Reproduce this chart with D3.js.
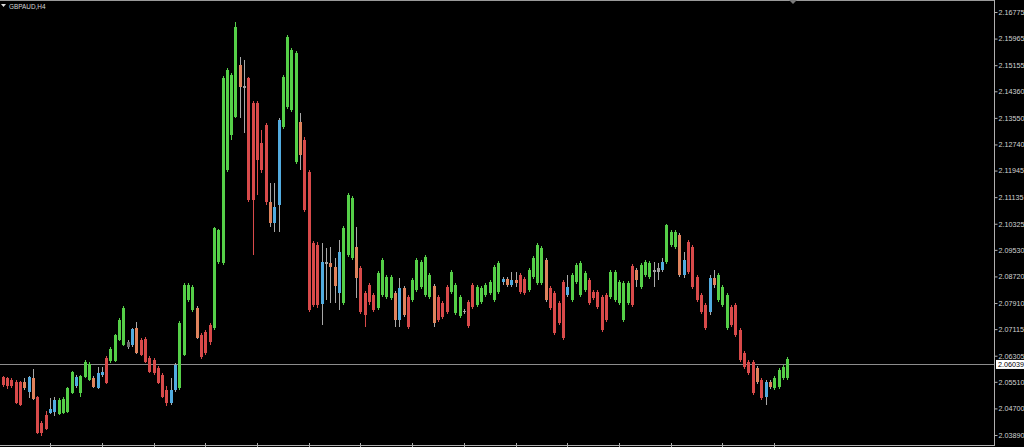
<!DOCTYPE html>
<html><head><meta charset="utf-8">
<script src="https://cdn.jsdelivr.net/npm/d3@7"></script>
<style>html,body{margin:0;padding:0;background:#000;overflow:hidden}svg{display:block}</style>
</head><body>
<script>
const symbolLabel = "GBPAUD,H4";
const currentPrice = 2.06039;
const priceTicks = [2.16775, 2.15965, 2.15155, 2.14360, 2.13550, 2.12740, 2.11945, 2.11135, 2.10325,
  2.09530, 2.08720, 2.07910, 2.07115, 2.06305, 2.05510, 2.04700, 2.03890];
const timeTickBars = [11, 23, 35, 47, 59, 71, 83, 95, 107, 119, 131, 143, 155, 167, 179];

const openP = [
2.0566,2.0563,2.0557,2.0551,2.0551,2.0551,2.0520,2.0563,2.0505,2.0426,
2.0450,2.0456,2.0459,2.0453,2.0456,2.0459,2.0517,2.0539,2.0517,2.0566,
2.0557,2.0563,2.0533,2.0572,2.0624,2.0615,2.0615,2.0678,2.0663,2.0672,
2.0663,2.0715,2.0678,2.0681,2.0624,2.0618,2.0593,2.0572,2.0526,2.0487,
2.0526,2.0533,2.0633,2.0800,2.0770,2.0776,2.0694,2.0703,2.0724,2.0715,
2.0916,2.0913,2.1196,2.1303,2.1358,2.1516,2.1452,2.1476,2.1400,2.1400,
2.1279,2.1334,2.1099,2.1035,2.1090,2.1327,2.1388,2.1379,2.1221,2.1343,
2.1288,2.1190,2.0974,2.0968,2.0788,2.0916,2.0913,2.0901,2.0822,2.0791,
2.0938,2.0928,2.0962,2.0898,2.0822,2.0846,2.0815,2.0776,2.0815,2.0809,
2.0806,2.0822,2.0739,2.0837,2.0809,2.0800,2.0831,2.0840,2.0815,2.0809,
2.0843,2.0809,2.0791,2.0840,2.0825,2.0761,2.0751,2.0767,2.0794,2.0846,
2.0785,2.0794,2.0815,2.0822,2.0800,2.0825,2.0855,2.0864,2.0846,2.0861,
2.0876,2.0864,2.0831,2.0870,2.0852,2.0852,2.0922,2.0837,2.0822,2.0791,
2.0855,2.0815,2.0800,2.0855,2.0815,2.0831,2.0861,2.0825,2.0825,2.0809,
2.0815,2.0809,2.0800,2.0791,2.0739,2.0791,2.0904,2.0892,2.0840,2.0876,
2.0870,2.0892,2.0898,2.0892,2.0916,2.0968,2.0962,2.0998,2.0876,2.0977,
2.0962,2.0870,2.0815,2.0785,2.0764,2.0867,2.0800,2.0785,2.0715,2.0779,
2.0785,2.0709,2.0639,2.0612,2.0612,2.0593,2.0557,2.0505,2.0551,2.0533,
2.0536,2.0563,2.0563];

const highP = [
2.0569,2.0566,2.0563,2.0557,2.0554,2.0563,2.0569,2.0590,2.0508,2.0432,
2.0462,2.0502,2.0505,2.0502,2.0505,2.0536,2.0584,2.0572,2.0572,2.0618,
2.0612,2.0569,2.0596,2.0596,2.0630,2.0657,2.0697,2.0745,2.0782,2.0678,
2.0715,2.0733,2.0684,2.0687,2.0630,2.0624,2.0599,2.0578,2.0539,2.0563,
2.0609,2.0736,2.0852,2.0852,2.0846,2.0782,2.0700,2.0709,2.0730,2.1023,
2.1017,2.1482,2.1507,2.1492,2.1647,2.1540,2.1531,2.1479,2.1406,2.1406,
2.1318,2.1340,2.1157,2.1157,2.1355,2.1486,2.1607,2.1568,2.1559,2.1370,
2.1297,2.1196,2.0980,2.0977,2.0974,2.0959,2.0962,2.0928,2.0983,2.1026,
2.1126,2.1117,2.1023,2.0904,2.0828,2.0852,2.0822,2.0889,2.0928,2.0876,
2.0876,2.0828,2.0867,2.0843,2.0815,2.0867,2.0928,2.0922,2.0938,2.0883,
2.0849,2.0815,2.0797,2.0846,2.0892,2.0852,2.0815,2.0773,2.0800,2.0852,
2.0846,2.0843,2.0852,2.0861,2.0907,2.0919,2.0870,2.0870,2.0886,2.0886,
2.0883,2.0870,2.0898,2.0934,2.0974,2.0965,2.0928,2.0843,2.0828,2.0797,
2.0861,2.0876,2.0883,2.0913,2.0919,2.0889,2.0867,2.0831,2.0831,2.0815,
2.0822,2.0892,2.0892,2.0861,2.0858,2.0858,2.0910,2.0898,2.0913,2.0922,
2.0919,2.0916,2.0913,2.0928,2.1032,2.1014,2.1014,2.1004,2.0947,2.0983,
2.0968,2.0876,2.0822,2.0791,2.0876,2.0892,2.0883,2.0846,2.0822,2.0785,
2.0791,2.0715,2.0645,2.0618,2.0618,2.0599,2.0563,2.0557,2.0557,2.0569,
2.0593,2.0603,2.0627];

const lowP = [
2.0536,2.0530,2.0533,2.0484,2.0478,2.0526,2.0502,2.0496,2.0392,2.0386,
2.0404,2.0453,2.0447,2.0450,2.0453,2.0456,2.0514,2.0533,2.0505,2.0563,
2.0554,2.0533,2.0530,2.0566,2.0545,2.0609,2.0612,2.0675,2.0660,2.0651,
2.0657,2.0636,2.0630,2.0609,2.0578,2.0572,2.0545,2.0502,2.0478,2.0481,
2.0520,2.0526,2.0630,2.0794,2.0764,2.0681,2.0621,2.0633,2.0663,2.0709,
2.0910,2.0907,2.1190,2.1288,2.1355,2.1355,2.1309,2.1099,2.0938,2.1120,
2.1187,2.1090,2.1023,2.1008,2.1008,2.1321,2.1382,2.1373,2.1215,2.1196,
2.1068,2.0764,2.0779,2.0776,2.0724,2.0800,2.0791,2.0791,2.0770,2.0785,
2.0931,2.0922,2.0806,2.0758,2.0718,2.0785,2.0764,2.0770,2.0809,2.0803,
2.0800,2.0718,2.0718,2.0748,2.0712,2.0794,2.0825,2.0834,2.0809,2.0803,
2.0718,2.0733,2.0742,2.0758,2.0819,2.0755,2.0745,2.0758,2.0715,2.0773,
2.0779,2.0788,2.0809,2.0815,2.0794,2.0819,2.0846,2.0840,2.0840,2.0840,
2.0819,2.0815,2.0825,2.0864,2.0846,2.0846,2.0794,2.0770,2.0694,2.0724,
2.0678,2.0809,2.0794,2.0849,2.0809,2.0825,2.0785,2.0800,2.0773,2.0703,
2.0733,2.0803,2.0794,2.0785,2.0733,2.0785,2.0779,2.0840,2.0834,2.0870,
2.0864,2.0840,2.0861,2.0886,2.0910,2.0962,2.0956,2.0870,2.0867,2.0880,
2.0834,2.0794,2.0758,2.0709,2.0755,2.0837,2.0794,2.0779,2.0709,2.0718,
2.0687,2.0612,2.0590,2.0572,2.0511,2.0545,2.0496,2.0481,2.0530,2.0526,
2.0530,2.0557,2.0557];

const closeP = [
2.0542,2.0539,2.0539,2.0487,2.0481,2.0533,2.0566,2.0499,2.0395,2.0395,
2.0407,2.0468,2.0496,2.0496,2.0499,2.0533,2.0581,2.0566,2.0569,2.0612,
2.0606,2.0536,2.0578,2.0581,2.0548,2.0651,2.0694,2.0739,2.0776,2.0657,
2.0712,2.0639,2.0633,2.0612,2.0581,2.0578,2.0548,2.0505,2.0487,2.0526,
2.0603,2.0730,2.0846,2.0846,2.0840,2.0684,2.0627,2.0639,2.0672,2.1020,
2.1014,2.1476,2.1501,2.1486,2.1632,2.1449,2.1446,2.1105,2.1105,2.1227,
2.1196,2.1099,2.1035,2.1084,2.1349,2.1479,2.1601,2.1562,2.1553,2.1242,
2.1074,2.0770,2.0785,2.0785,2.0916,2.0910,2.0901,2.0843,2.0947,2.1020,
2.1120,2.1111,2.0867,2.0764,2.0755,2.0794,2.0770,2.0883,2.0922,2.0870,
2.0870,2.0739,2.0837,2.0755,2.0718,2.0861,2.0922,2.0916,2.0931,2.0876,
2.0730,2.0739,2.0748,2.0764,2.0886,2.0846,2.0809,2.0764,2.0721,2.0779,
2.0840,2.0837,2.0846,2.0855,2.0901,2.0913,2.0864,2.0846,2.0861,2.0852,
2.0825,2.0822,2.0892,2.0928,2.0968,2.0959,2.0800,2.0776,2.0700,2.0730,
2.0684,2.0840,2.0876,2.0907,2.0913,2.0883,2.0791,2.0806,2.0779,2.0709,
2.0739,2.0886,2.0886,2.0855,2.0852,2.0852,2.0785,2.0861,2.0907,2.0916,
2.0913,2.0886,2.0886,2.0916,2.1029,2.1008,2.1008,2.0876,2.0922,2.0886,
2.0840,2.0800,2.0764,2.0715,2.0867,2.0846,2.0876,2.0840,2.0815,2.0724,
2.0694,2.0618,2.0596,2.0578,2.0517,2.0551,2.0502,2.0551,2.0536,2.0563,
2.0587,2.0596,2.0622];

// candle colour class: g = up, r = down, o = down (alt), b = up (alt), w/d = doji
const candleStyle = (
"rrrrrobor" + "r" +
"rbbggggbg" + "g" +
"gobbrggggd" +
"borrrrrrrb" +
"bggggorrrg" +
"gggggowrrr" +
"rrobbggggo" +
"rrrrbwoobg" +
"ggorrrrggg" +
"gobor" + "ggggg" +
"orrrgggwrr" +
"ggggggbobo" +
"rrggggorrr" +
"rbggggrrrr" +
"rgggggrogg" +
"gwwbgggobr" +
"rrrrbogggr" +
"rrrrrorbog" +
"ggg").split("");

const W = 1024, H = 447;
const plotRight = 994;
const svg = d3.select("body").append("svg").attr("width", W).attr("height", H)
  .style("background", "#000");

const n = openP.length;
const x = d3.scaleBand().domain(d3.range(n)).range([0.55, 0.55 + 4.31 * n]).padding(0);
const y = d3.scaleLinear().domain([2.03890, 2.16775]).range([435, 12]);

const color = d3.scaleOrdinal()
  .domain(["g", "r", "o", "b", "w", "d"])
  .range(["#55cf48", "#d84a4a", "#e0835d", "#52ace0", "#a0a0a0", "#6e6e6e"]);
const wickColor = s => (s === "g" || s === "r") ? color(s) : "#a8a8a8";

const data = openP.map((o, i) => ({ i, o, h: highP[i], l: lowP[i], c: closeP[i], s: candleStyle[i] || "g" }));

// frame lines
svg.append("line").attr("x1", 0).attr("x2", plotRight).attr("y1", 0.5).attr("y2", 0.5)
  .attr("stroke", "#9a9a9a");
svg.append("line").attr("x1", 0).attr("x2", plotRight).attr("y1", 445.5).attr("y2", 445.5)
  .attr("stroke", "#b0b0b0");
svg.append("line").attr("x1", plotRight + 0.5).attr("x2", plotRight + 0.5).attr("y1", 0).attr("y2", 446)
  .attr("stroke", "#b0b0b0");

// bid line
svg.append("line").attr("x1", 0).attr("x2", plotRight)
  .attr("y1", Math.round(y(currentPrice)) + 0.5).attr("y2", Math.round(y(currentPrice)) + 0.5)
  .attr("stroke", "#8c8c8c");

// candles
const cg = svg.append("g").attr("shape-rendering", "crispEdges");
const cx = d => Math.round(x(d.i) + x.bandwidth() / 2);
cg.selectAll("line.wick").data(data).join("line").attr("class", "wick")
  .attr("x1", d => cx(d) + 0.5).attr("x2", d => cx(d) + 0.5)
  .attr("y1", d => y(d.h)).attr("y2", d => y(d.l))
  .attr("stroke", d => wickColor(d.s)).attr("stroke-width", 1);
cg.selectAll("rect.body").data(data).join("rect").attr("class", "body")
  .attr("x", d => cx(d) - 1)
  .attr("width", 3)
  .attr("y", d => y(Math.max(d.o, d.c)))
  .attr("height", d => Math.max(1, Math.abs(y(d.o) - y(d.c))))
  .attr("fill", d => color(d.s));

// right price axis
const axis = d3.axisRight(y).tickValues(priceTicks).tickFormat(d3.format(".5f"))
  .tickSize(3).tickPadding(1);
const ag = svg.append("g").attr("transform", `translate(${plotRight + 0.5},0)`).call(axis);
ag.select(".domain").remove();
ag.selectAll(".tick line").attr("stroke", "#b0b0b0");
ag.selectAll(".tick text").attr("fill", "#d4d4d4")
  .style("font-family", "'Liberation Sans', Arial, sans-serif").style("font-size", "7.2px");

// current price label
const cy = y(currentPrice);
svg.append("rect").attr("x", plotRight + 2).attr("y", cy - 4.5).attr("width", 28).attr("height", 9)
  .attr("fill", "#ffffff");
svg.append("text").attr("x", plotRight + 4).attr("y", cy).attr("dy", "0.34em")
  .attr("fill", "#000").style("font-family", "'Liberation Sans', Arial, sans-serif")
  .style("font-size", "7.2px").text(d3.format(".5f")(currentPrice));

// bottom time ticks
svg.append("g").attr("shape-rendering", "crispEdges").selectAll("line").data(timeTickBars).join("line")
  .attr("x1", d => Math.round(x(d) + x.bandwidth() / 2) + 0.5)
  .attr("x2", d => Math.round(x(d) + x.bandwidth() / 2) + 0.5)
  .attr("y1", 443).attr("y2", 447).attr("stroke", "#b0b0b0");

// chart shift marker
svg.append("path").attr("d", "M789,0L797,0L793,4Z").attr("fill", "#7a7a7a");

// title
svg.append("path").attr("d", "M1,4L6,4L3.5,7Z").attr("fill", "#e0e0e0");
svg.append("text").attr("x", 9).attr("y", 8.5).attr("fill", "#d8d8d8")
  .style("font-family", "'Liberation Sans', Arial, sans-serif").style("font-size", "6.4px")
  .text(symbolLabel);
</script>
</body></html>
